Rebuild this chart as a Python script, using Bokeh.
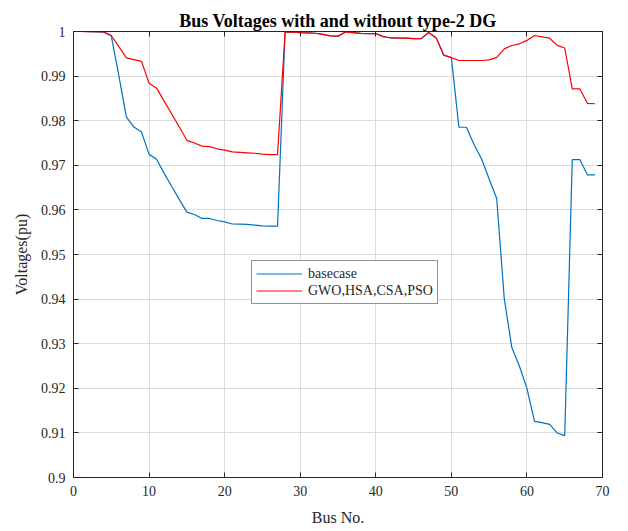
from bokeh.plotting import figure
from bokeh.models import (ColumnDataSource, FixedTicker, CustomJSTickFormatter, LinearAxis,
                          Legend, LegendItem, Range1d)
from bokeh.embed import file_html
from bokeh.resources import INLINE

# ---- data ----
bus = list(range(1, 70))
basecase = [1.00000, 0.99997, 0.99993, 0.99984, 0.99902, 0.99009, 0.98079, 0.97858, 0.97745, 0.97245,
            0.97135, 0.96819, 0.96526, 0.96237, 0.95951, 0.95897, 0.95809, 0.95808, 0.95762, 0.95732,
            0.95684, 0.95683, 0.95676, 0.95660, 0.95643, 0.95636, 0.95634,
            0.99993, 0.99985, 0.99973, 0.99971, 0.99961, 0.99935, 0.99901, 0.99895,
            0.99992, 0.99975, 0.99959, 0.99954, 0.99954, 0.99884, 0.99855, 0.99851, 0.99850, 0.99841, 0.99840,
            0.99979, 0.99854, 0.99470, 0.99415,
            0.97853, 0.97853, 0.97465, 0.97141, 0.96693, 0.96256, 0.94011, 0.92917, 0.92499, 0.91998,
            0.91260, 0.91231, 0.91193, 0.90999, 0.90939,
            0.97129, 0.97129, 0.96786, 0.96786]
with_dg = [1.00000, 0.99999, 0.99997, 0.99993, 0.99910, 0.99660, 0.99410, 0.99370, 0.99330, 0.98840,
           0.98730, 0.98440, 0.98150, 0.97860, 0.97560, 0.97500, 0.97430, 0.97420, 0.97370, 0.97340,
           0.97300, 0.97290, 0.97280, 0.97270, 0.97250, 0.97240, 0.97240,
           0.99993, 0.99985, 0.99973, 0.99971, 0.99961, 0.99935, 0.99901, 0.99895,
           0.99992, 0.99975, 0.99959, 0.99954, 0.99954, 0.99884, 0.99855, 0.99851, 0.99850, 0.99841, 0.99840,
           0.99979, 0.99854, 0.99470, 0.99415,
           0.99350, 0.99350, 0.99350, 0.99350, 0.99365, 0.99420, 0.99610, 0.99686, 0.99724, 0.99800,
           0.99910, 0.99880, 0.99850, 0.99690, 0.99630,
           0.98715, 0.98715, 0.98390, 0.98380]
series_labels = ["basecase", "GWO,HSA,CSA,PSO"]
x_ticks = [0, 10, 20, 30, 40, 50, 60, 70]
x_tick_labels = ["0", "10", "20", "30", "40", "50", "60", "70"]
y_ticks = [0.90, 0.91, 0.92, 0.93, 0.94, 0.95, 0.96, 0.97, 0.98, 0.99, 1.00]
y_tick_labels = ["0.9", "0.91", "0.92", "0.93", "0.94", "0.95", "0.96", "0.97", "0.98", "0.99", "1"]

FONT = "Liberation Serif"
TXT = "#262626"

src = ColumnDataSource(dict(bus=bus, base=basecase, dg=with_dg))

p = figure(width=628, height=531, output_backend="svg", toolbar_location=None,
           x_range=Range1d(0, 70), y_range=Range1d(0.9, 1.0),
           min_border_left=73, min_border_right=26, min_border_top=31, min_border_bottom=54)

p.title.text = "Bus Voltages with and without type-2 DG"
p.title.text_font = FONT
p.title.text_font_style = "bold"
p.title.text_font_size = "18px"
p.title.align = "center"
p.title.text_color = "black"
p.title.standoff = 2

r1 = p.line("bus", "base", source=src, line_color="#0072BD", line_width=1.2)
r2 = p.line("bus", "dg", source=src, line_color="#FF0000", line_width=1.2)

def lab_fmt(tick_vals, tick_labs):
    return CustomJSTickFormatter(args=dict(tv=tick_vals, tl=tick_labs), code="""
        const i = tv.findIndex(t => Math.abs(t - tick) < 1e-9);
        return i >= 0 ? tl[i] : '';
    """)

for ax in p.xaxis + p.yaxis:
    ax.major_tick_in = 5
    ax.major_tick_out = 0
    ax.minor_tick_line_color = None
    ax.axis_line_color = TXT
    ax.major_tick_line_color = TXT
    ax.major_label_text_font = FONT
    ax.major_label_text_font_size = "14px"
    ax.major_label_text_color = TXT
    ax.axis_label_text_font = FONT
    ax.axis_label_text_font_size = "16px"
    ax.axis_label_text_font_style = "normal"
    ax.axis_label_text_color = TXT
    ax.major_label_standoff = 8

p.xaxis.ticker = FixedTicker(ticks=x_ticks)
p.xaxis.formatter = lab_fmt(x_ticks, x_tick_labels)
p.yaxis.ticker = FixedTicker(ticks=y_ticks)
p.yaxis.formatter = lab_fmt(y_ticks, y_tick_labels)
p.xaxis.axis_label = "Bus No."
p.yaxis.axis_label = "Voltages(pu)"
p.xaxis.axis_label_standoff = 10
p.yaxis.axis_label_standoff = 8

for loc, tks in (("right", y_ticks), ("above", x_ticks)):
    ax = LinearAxis(ticker=FixedTicker(ticks=tks),
                    formatter=CustomJSTickFormatter(code="return '';"))
    ax.major_tick_in = 5
    ax.major_tick_out = 0
    ax.minor_tick_line_color = None
    ax.axis_line_color = TXT
    ax.major_tick_line_color = TXT
    ax.major_label_text_font_size = "0px"
    ax.major_label_standoff = 0
    p.add_layout(ax, loc)

p.grid.grid_line_color = "#dcdcdc"
p.grid.grid_line_width = 1
p.outline_line_color = TXT

legend = Legend(items=[LegendItem(label=series_labels[0], renderers=[r1]),
                       LegendItem(label=series_labels[1], renderers=[r2])],
                location=(178, 173))
legend.label_text_font = FONT
legend.label_text_font_size = "14px"
legend.label_text_color = TXT
legend.glyph_width = 46
legend.glyph_height = 17
legend.label_height = 17
legend.label_standoff = 6
legend.spacing = 0
legend.padding = 4
legend.margin = 0
legend.border_line_color = TXT
legend.border_line_width = 1
legend.background_fill_color = "white"
legend.background_fill_alpha = 1
p.add_layout(legend, "center")

open("out.html", "w").write(file_html(p, INLINE))
